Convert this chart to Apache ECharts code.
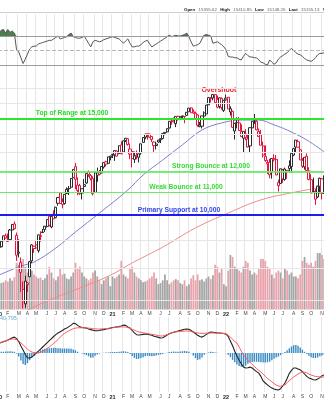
<!DOCTYPE html>
<html>
<head>
<meta charset="utf-8">
<title>Nasdaq 100 weekly</title>
<script src="https://cdn.jsdelivr.net/npm/echarts@6/dist/echarts.min.js"></script>
<style>
html,body{margin:0;padding:0;background:#fff;}
#chart{width:324px;height:400px;}
</style>
</head>
<body>
<div id="chart"></div>
<script>
// Weekly bars, one per week ending Friday, starting with the week of 2020-01-03
const firstWeek = '2020-01-03';

// [open, high, low, close]
const weeklyOHLC = [
  [8740,8880,8690,8790],[8760,8990,8750,8970],[8990,9180,8970,9170],[9180,9260,9070,9090],[8960,9260,8940,8990],
  [9030,9440,9020,9400],[9400,9630,9370,9620],[9640,9740,9420,9450],[9190,9300,8260,8460],[8570,9040,8380,8530],
  [8200,8380,7250,7870],[7330,7580,6770,6990],[6900,7760,6790,7590],[7480,7560,7250,7530],[7730,8260,7730,8230],
  [8260,8860,8190,8830],[8700,8800,8540,8780],[8830,9000,8690,8720],[8620,9220,8550,9210],[9180,9350,8950,9150],
  [9300,9440,9280,9320],[9420,9560,9320,9550],[9540,9830,9500,9820],[9960,10000,9540,9590],[9520,10010,9470,9950],
  [10050,10200,9840,9850],[9900,10350,9870,10340],[10510,10780,10400,10770],[10980,11000,10500,10500],[10590,10730,10290,10460],
  [10500,10910,10450,10910],[10950,11230,10920,11140],[11160,11300,10880,11180],[11240,11670,11170,11660],[11700,12110,11680,12110],
  [12250,12440,11150,11620],[11340,11710,10870,11090],[11320,11400,10880,10940],[10970,11170,10680,11170],[11280,11630,11100,11360],
  [11440,11900,11400,11900],[12000,12060,11740,11850],[11810,11880,11560,11670],[11650,11770,10860,10940],[11000,12000,10990,11940],
  [11820,12200,11500,11940],[11950,12080,11810,11860],[11930,12260,11920,12260],[12230,12470,12150,12460],[12500,12560,12260,12380],
  [12420,12770,12400,12760],[12730,12820,12580,12800],
  [12850,12930,12700,12890],[12870,13110,12550,13100],[13080,13110,12790,12800],[12950,13370,12900,13370],[13420,13620,12900,12930],
  [13030,13660,13000,13650],[13670,13810,13580,13800],[13770,13810,13380,13440],[13190,13500,12640,12910],[13050,13120,12210,12670],
  [12630,13050,12440,12820],[12850,13110,12630,12780],[12740,12930,12470,12930],[12970,13480,12880,13480],[13560,13850,13550,13840],
  [13860,14040,13740,14040],[14060,14060,13720,13960],[14040,14060,13820,13860],[13900,13920,13580,13720],[13580,13600,12970,13380],
  [13380,13590,13160,13470],[13580,13700,13530,13690],[13710,13790,13520,13770],[13780,14070,13730,14070],[14080,14160,13970,14140],
  [14170,14370,14120,14360],[14400,14810,14370,14810],[14820,14900,14600,14800],[14850,15050,14770,14770],[14660,15120,14450,15120],
  [15120,15160,14850,14960],[15020,15110,14960,15100],[15100,15170,14980,15150],[15110,15140,14690,15100],[15180,15390,15170,15380],
  [15410,15660,15400,15650],[15660,15700,15350,15350],[15410,15560,15290,15330],[14940,15420,14940,15320],[15210,15250,14480,14570],
  [14480,14770,14450,14580],[14510,15150,14370,15150],[15140,15440,15130,15340],[15270,15860,15270,15850],[15870,16400,15860,16350],
  [16310,16380,16020,16300],[16330,16600,16170,16570],[16560,16580,16000,16030],[16240,16490,15640,15710],[15760,16340,15620,16340],
  [16300,16370,15560,15690],[15500,16180,15400,16170],[16200,16570,16150,16320],
  [16380,16390,15590,15590],[15400,15770,15170,15610],[15440,15490,14430,14440],[14220,14690,13720,14680],[14720,15060,14380,14740],
  [14710,15080,14240,14250],[14200,14620,13880,13890],[13800,14200,13020,14200],[14050,14330,13680,13840],[13760,14030,13270,13300],
  [13360,14420,13020,14420],[14410,14830,14310,14810],[14800,15270,14650,14840],[14810,14880,14260,14290],[14200,14370,13870,13900],
  [14000,14280,13400,13400],[13360,13610,12730,12850],[12790,13400,12500,12570],[12470,12600,11880,12390],[12480,12660,11670,11840],
  [11990,12690,11650,12680],[12610,12900,12520,12670],[12630,12860,11830,11830],[11460,11600,11040,11310],[11420,12150,11400,12140],
  [12080,12140,11450,11640],[11610,12200,11550,12130],[11990,12050,11640,12070],[12150,12580,11970,12290],[12260,12950,11940,12950],
  [12860,13260,12800,13210],[13300,13690,13020,13690],[13600,13720,13280,13290],[13150,13370,12600,12600],[12580,12700,12180,12270],
  [12240,12740,12100,12740],[12800,12950,11960,12050],[12040,12220,11570,11610],[11600,11870,10970,10970],[11060,11700,11020,11040],
  [10980,11160,10440,10690],[10790,11310,10740,11290],[11290,11700,10950,11670],[11640,11680,10680,10960],[11000,11800,10930,11790]
];

// weekly volume, billions of shares
const weeklyVolume = [
  6.5,6.8,7.0,7.5,7.2,8.0,7.4,8.3,12.0,11.5,
  12.5,13.0,11.0,9.5,9.0,10.0,9.0,8.5,8.0,8.2,
  7.6,8.0,9.0,11.0,9.5,8.0,7.5,8.5,10.5,9.0,
  9.2,8.0,7.8,8.5,9.5,12.0,10.5,11.0,9.5,8.5,
  8.0,7.5,8.0,9.5,10.0,8.5,7.5,6.5,7.5,8.0,
  8.5,6.0,8.5,8.0,8.5,9.0,12.5,9.0,8.5,8.0,
  10.5,11.0,9.5,8.5,8.0,7.5,7.0,7.2,7.5,8.0,
  8.5,9.5,8.0,6.5,6.8,7.5,9.0,7.5,6.5,7.0,
  7.5,7.8,7.5,6.8,6.5,7.5,6.0,6.5,8.0,8.8,
  7.5,9.0,7.5,7.8,7.2,8.0,8.5,7.8,8.8,11.5,
  11.0,9.5,10.5,6.5,6.0,10.0,14.0,13.5,11.0,10.5,
  10.0,9.5,11.0,12.5,12.0,10.0,9.0,9.5,9.0,10.5,
  13.0,13.0,12.5,11.0,10.5,9.0,8.0,9.5,10.0,9.5,
  8.0,10.5,10.0,9.0,9.5,8.5,8.5,8.0,9.0,12.5,
  13.5,12.0,11.5,12.0,11.0,12.5,14.5,14.5,14.0,13.0
];

// RSI(14)
const rsi14 = [
  74,78,79,74,79,75,77,74,51,48,
  40,32,38,45,52,55,56,56,59,60,
  61,62,63,64,64,66,68,70,66,67,
  68,69,72,74,69,68,67,67,68,70,
  65,60,55,62,64,63,62,63,65,66,
  67,68,69,68,67,66,63,60,63,66,
  60,55,55,56,56,58,61,63,64,59,
  55,57,59,61,63,65,67,69,71,69,
  70,71,70,70,71,72,74,69,62,56,
  57,58,60,66,71,72,71,70,60,61,
  62,60,58,55,51,42,41,41,40,40,
  38,37,42,46,43,41,41,40,40,37,
  34,33,31,30,37,34,31,33,38,41,
  43,45,47,50,53,50,47,45,44,42,
  39,37,36,35,37,40,44,46,46,47
];

// MACD(12,26,9)
const macdLine = [
  330,350,380,400,430,470,510,530,480,380,
  230,100,-50,-160,-170,-130,-80,0,60,130,
  200,270,340,410,480,550,610,670,710,750,
  800,830,880,930,990,980,920,870,850,840,
  830,800,780,760,740,740,750,770,780,800,
  810,830,850,860,870,880,900,930,920,870,
  830,750,670,610,600,610,620,630,630,610,
  590,560,540,520,500,510,550,600,640,670,
  690,710,730,750,770,790,800,790,750,700,
  650,590,550,530,570,620,670,700,690,680,
  670,665,660,650,630,550,400,240,60,-100,
  -240,-360,-470,-500,-490,-470,-500,-560,-620,-670,
  -780,-930,-1000,-1060,-1120,-1170,-1200,-1220,-1233,-1190,
  -1100,-1000,-850,-680,-580,-500,-500,-530,-560,-620,
  -700,-780,-830,-860,-890,-900,-870,-820,-760,-730
];
const macdSignal = [
  330,350,380,400,430,450,467,460,440,400,
  340,270,200,130,70,33,15,5,0,20,
  60,100,150,200,260,320,380,450,530,600,
  650,700,740,780,810,830,840,840,840,835,
  833,830,820,810,805,800,800,805,810,815,
  820,830,840,855,867,870,870,870,867,850,
  820,790,760,730,700,690,675,660,650,633,
  620,610,595,580,567,570,590,610,640,670,
  695,705,715,720,725,730,733,733,720,700,
  685,667,660,655,655,660,665,667,667,667,
  667,665,660,650,633,600,530,460,380,333,
  200,60,-67,-150,-240,-310,-380,-450,-520,-580,
  -633,-700,-780,-850,-900,-960,-1020,-1070,-1100,-1110,
  -1080,-1067,-990,-920,-860,-800,-750,-700,-660,-633,
  -640,-660,-700,-733,-760,-780,-790,-795,-800,-800
];
const macdHistogram = [
  30,40,40,50,50,60,50,40,-20,-120,
  -250,-370,-400,-340,-240,-150,-80,-20,40,90,
  120,140,150,160,170,170,165,160,160,150,
  150,150,150,140,120,90,40,0,-20,-40,
  -70,-110,-160,-150,-90,-50,-20,0,10,20,
  20,30,30,30,30,40,50,60,50,30,
  -30,-100,-160,-200,-190,-170,-140,-110,-90,-100,
  -110,-100,-80,-60,-50,-30,-10,10,30,40,
  50,40,40,50,60,70,60,40,-10,-80,
  -170,-230,-210,-150,-60,-10,20,40,30,20,
  10,0,0,0,-10,-60,-140,-230,-310,-380,
  -430,-460,-460,-420,-360,-320,-300,-290,-290,-300,
  -310,-320,-320,-310,-290,-240,-190,-150,-120,-70,
  -20,30,90,160,220,260,270,240,180,110,
  40,-30,-90,-140,-170,-170,-150,-110,-80,-50
];

// moving averages, sampled weekly readings [week, value]
const sma50 = [
  ['2020-01-03',7784],['2020-03-13',8084],['2020-04-24',8219],['2020-07-03',8715],['2020-09-04',9320],
  ['2020-11-20',10090],['2021-02-19',11110],['2021-04-09',11830],['2021-06-11',12600],['2021-08-13',13420],
  ['2021-10-15',14280],['2021-12-17',14710],['2022-02-18',14890],['2022-04-15',14890],['2022-06-03',14590],
  ['2022-07-15',14280],['2022-09-16',13700],['2022-11-11',13030]
];
const sma200 = [
  ['2020-01-03',6350],['2020-04-17',6780],['2020-06-12',7010],['2020-09-25',7400],['2020-12-25',7780],
  ['2021-03-05',8190],['2021-06-11',8750],['2021-09-24',9480],['2022-01-07',10090],['2022-04-22',10660],
  ['2022-08-12',11020],['2022-11-11',11250]
];

// annotated price levels
const levelValues = [15000, 12000, 11000, 10000];
const levelTexts = ['Top of Range at 15,000', 'Strong Bounce at 12,000', 'Weak Bounce at 11,000', 'Primary Support at 10,000'];
const peakText = 'Overshoot';

const priceGridValues = [7000, 8000, 9000, 10000, 11000, 12000, 13000, 14000, 15000, 16000, 17000];
const monthLetters = ['J','F','M','A','M','J','J','A','S','O','N','D'];
const headerLabels = ['Open', 'High', 'Low', 'Last', 'V'];
const headerValues = ['15355.62', '15410.85', '15148.26', '15155.13', ''];
const volumeNote = '40,795';

// ---- derived helpers ----
const DAY = 864e5;
const t0 = Date.parse(firstWeek);
const weekDates = weeklyOHLC.map((_, i) => new Date(t0 + i * 7 * DAY).toISOString().slice(0, 10));
const weekIndex = d => Math.round((Date.parse(d) - t0) / (7 * DAY));
// a week opens a new month when the day after its Friday falls in a new month
const monthStart = weekDates.map(d => {
  const t = Date.parse(d);
  return new Date(t + DAY).getUTCMonth() !== new Date(t - 6 * DAY).getUTCMonth();
});
function sparse(points) {
  const arr = weekDates.map(() => null);
  points.forEach(([d, v]) => { arr[weekIndex(d)] = v; });
  return arr;
}

const FONT = '"Liberation Sans", Arial, sans-serif';
const RED = '#e3163d';
const INK = '#2a2a2a';
const GRIDC = '#e6e6e6';

const candleItems = weeklyOHLC.map(([o, h, l, c], i) => {
  const prev = i ? weeklyOHLC[i - 1][3] : o;
  const col = c < prev ? RED : INK;
  return { value: [o, c, l, h], itemStyle: { color: '#ffffff', color0: col, borderColor: col, borderColor0: col } };
});
const volumeItems = weeklyVolume.map((v, i) => {
  const c = weeklyOHLC[i][3];
  const prev = i ? weeklyOHLC[i - 1][3] : weeklyOHLC[i][0];
  return { value: v, itemStyle: { color: c < prev ? '#eaa3ad' : '#a6a6a6' } };
});

function xAxis(gridIndex, showLabels) {
  return {
    type: 'category', gridIndex, data: weekDates, boundaryGap: true,
    axisLine: { show: false }, axisTick: { show: false },
    axisLabel: {
      show: showLabels, interval: i => monthStart[i], margin: 2,
      fontSize: 5, color: '#444', fontFamily: FONT,
      formatter: v => {
        const dt = new Date(Date.parse(v) + DAY);
        const m = dt.getUTCMonth();
        return m === 0 ? '{y|' + String(dt.getUTCFullYear()).slice(2) + '}' : monthLetters[m];
      },
      rich: { y: { fontSize: 5.5, fontWeight: 'bold', color: '#222', fontFamily: FONT } }
    },
    splitLine: { show: true, interval: i => monthStart[i], lineStyle: { color: GRIDC, width: 1 } }
  };
}

const gridBase = { left: -2, right: -1.3, outerBoundsMode: 'none', containLabel: false };
const option = {
  animation: false,
  backgroundColor: '#ffffff',
  grid: [
    Object.assign({ top: 14.25, height: 72.5 }, gridBase),
    Object.assign({ top: 76, height: 233.5 }, gridBase),
    Object.assign({ top: 317, height: 75 }, gridBase)
  ],
  xAxis: [xAxis(0, false), xAxis(1, true), xAxis(2, true)],
  yAxis: [
    { gridIndex: 0, min: 0, max: 100, show: false, splitLine: { show: false } },
    { gridIndex: 1, type: 'log', logBase: 10, min: 6740, max: 17900, show: false, splitLine: { show: false } },
    { gridIndex: 1, min: 0, max: 60, show: false, splitLine: { show: false } },
    { gridIndex: 2, min: -1300, max: 1200, show: false, splitLine: { show: false } }
  ],
  series: [
    { type: 'line', xAxisIndex: 0, yAxisIndex: 0, data: rsi14.map(() => 70), stack: 'rsi',
      symbol: 'none', lineStyle: { opacity: 0 }, silent: true },
    { type: 'line', xAxisIndex: 0, yAxisIndex: 0, data: rsi14.map(r => Math.max(r - 70, 0)), stack: 'rsi',
      symbol: 'none', lineStyle: { opacity: 0 }, areaStyle: { color: '#4f7d4f', opacity: 1 }, silent: true },
    { name: 'RSI', type: 'line', xAxisIndex: 0, yAxisIndex: 0, data: rsi14, symbol: 'none',
      lineStyle: { color: '#555', width: 1 }, silent: true,
      markLine: { silent: true, symbol: 'none', label: { show: false }, animation: false,
        data: [
          { yAxis: 70, lineStyle: { color: '#9c9c9c', type: 'solid', width: 1 } },
          { yAxis: 50, lineStyle: { color: '#b8b8b8', type: 'dashed', width: 1 } },
          { yAxis: 30, lineStyle: { color: '#9c9c9c', type: 'solid', width: 1 } }
        ] } },
    { name: 'SMA200', type: 'line', xAxisIndex: 1, yAxisIndex: 1, data: sparse(sma200), connectNulls: true,
      smooth: 0.4, symbol: 'none', lineStyle: { color: '#ee8c8c', width: 1 }, silent: true, z: 3,
      markLine: { silent: true, symbol: 'none', label: { show: false }, animation: false,
        lineStyle: { color: GRIDC, type: 'solid', width: 1 },
        data: priceGridValues.map(v => ({ yAxis: v })) } },
    { name: 'Volume', type: 'bar', xAxisIndex: 1, yAxisIndex: 2, data: volumeItems, barWidth: '82%', silent: true, z: 2 },
    { name: 'SMA50', type: 'line', xAxisIndex: 1, yAxisIndex: 1, data: sparse(sma50), connectNulls: true,
      smooth: 0.4, symbol: 'none', lineStyle: { color: '#7f7fcf', width: 1 }, silent: true, z: 3 },
    { name: 'Price', type: 'candlestick', xAxisIndex: 1, yAxisIndex: 1, data: candleItems, barWidth: 2.6, z: 4,
      markLine: { silent: true, symbol: 'none', label: { show: false }, animation: false,
        data: [
          { yAxis: levelValues[0], lineStyle: { color: '#2ee62e', width: 2, type: 'solid' } },
          { yAxis: levelValues[1], lineStyle: { color: '#4deb4d', width: 1.5, type: 'solid' } },
          { yAxis: levelValues[2], lineStyle: { color: '#66ee66', width: 1, type: 'solid' } },
          { yAxis: levelValues[3], lineStyle: { color: '#1d1df0', width: 2, type: 'solid' } }
        ] } },
    { name: 'Histogram', type: 'bar', xAxisIndex: 2, yAxisIndex: 3, data: macdHistogram, barWidth: 1.4,
      itemStyle: { color: '#3a8cc4' }, silent: true },
    { name: 'MACD', type: 'line', xAxisIndex: 2, yAxisIndex: 3, data: macdLine, symbol: 'none',
      lineStyle: { color: '#222', width: 1.1 }, silent: true },
    { name: 'Signal', type: 'line', xAxisIndex: 2, yAxisIndex: 3, data: macdSignal, symbol: 'none',
      lineStyle: { color: '#ff5a5a', width: 1 }, silent: true }
  ]
};

const chart = echarts.init(document.getElementById('chart'), null, { renderer: 'canvas' });
chart.setOption(option);

// text annotations positioned from the price scale
const levelLabelX = [72, 211, 186, 179];
const levelLabelColor = ['#22dd22', '#33dd33', '#33dd33', '#3344ee'];
const graphics = levelValues.map((v, k) => ({
  type: 'text', silent: true,
  x: levelLabelX[k], y: chart.convertToPixel({ yAxisIndex: 1 }, v) - 5.5,
  style: { text: levelTexts[k], fill: levelLabelColor[k], font: 'bold 6.7px ' + FONT, align: 'center', verticalAlign: 'middle' }
}));
let peak = 0;
weeklyOHLC.forEach((b, i) => { if (b[1] > weeklyOHLC[peak][1]) peak = i; });
const peakPx = chart.convertToPixel({ xAxisIndex: 1, yAxisIndex: 1 }, [peak, weeklyOHLC[peak][1]]);
graphics.push({ type: 'text', silent: true, x: peakPx[0] + 6, y: peakPx[1] - 0.5,
  style: { text: peakText, fill: '#ee2222', font: 'bold 7px ' + FONT, align: 'center', verticalAlign: 'bottom' } });
graphics.push({ type: 'text', silent: true, x: 184, y: 10,
  style: {
    text: headerLabels.map((l, k) => '{b|' + l + '} {v|' + headerValues[k] + '}').join(' '),
    align: 'left', verticalAlign: 'middle',
    rich: { b: { font: 'bold 4.4px ' + FONT, fill: '#111' }, v: { font: '4.4px ' + FONT, fill: '#666' } }
  } });
graphics.push({ type: 'text', silent: true, x: 0, y: 318,
  style: { text: volumeNote, fill: '#6aaed6', font: '5.5px ' + FONT, align: 'left', verticalAlign: 'middle' } });
graphics.push({ type: 'line', silent: true, shape: { x1: 0, y1: 12.5, x2: 324, y2: 12.5 }, style: { stroke: '#cfcfcf', lineWidth: 1 } });
chart.setOption({ graphic: graphics });
</script>
</body>
</html>
